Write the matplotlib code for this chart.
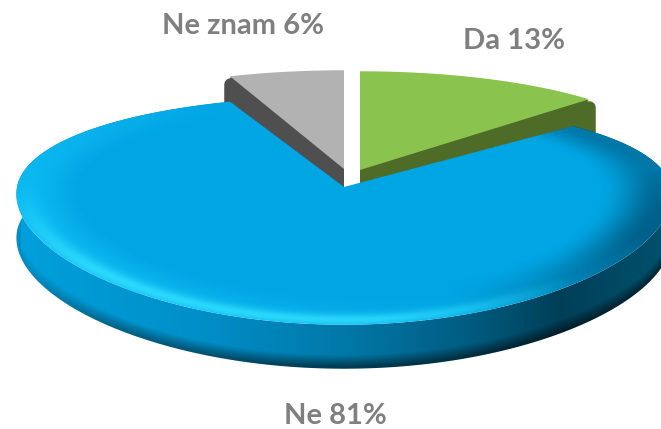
import numpy as np
import matplotlib
matplotlib.use("Agg")
import matplotlib.pyplot as plt
from matplotlib.patches import Polygon

# slices, clockwise from 12 o'clock
names = ["Da", "Ne", "Ne znam"]
values = [13, 81, 6]
top_colors = ["#8BC34F", "#00A5E3", "#B2B2B2"]
side_colors = ["#4E6B28", "#006A90", "#4F4F4F"]
offsets = [(16, -17), (0, 0), (0, -18)]
label_xy = [(514, 41), (335, 416), (243, 26)]

CX, CY = 344, 187
RX, RY = 327, 115
KX, KY = 0.06, 0.165
DEPTH = 44
FAR_LEFT, FAR_RIGHT = 0.92, 0.86


def project(theta, squeeze=False):
    x, y = np.sin(theta), np.cos(theta)
    sy = RY * y / (1 + KY * y)
    if squeeze:
        sy = np.where(y > 0, np.where(x < 0, FAR_LEFT, FAR_RIGHT), 1.0) * sy
    return CX + RX * x / (1 + KX * y), CY - sy


def wedge(a0, a1, dx=0, dy=0, squeeze=False):
    th = np.linspace(a0, a1, 300)
    px, py = project(th, squeeze)
    return np.r_[CX + dx, px + dx], np.r_[CY + dy, py + dy]


def blend(s, light, dark, base):
    s = s[..., None]
    base, light, dark = map(np.array, (base, light, dark))
    return base + np.clip(s, 0, 1) * (light - base) + np.clip(-s, 0, 1) * (dark - base)


fig = plt.figure(figsize=(6.61, 4.29), dpi=100)
ax = fig.add_axes([0, 0, 1, 1])
ax.set_xlim(0, 661)
ax.set_ylim(429, 0)
ax.axis("off")

edges = np.r_[0, np.cumsum(values)] / sum(values) * 2 * np.pi

# gray and green first, the blue slice sits in front of them
for i in (2, 0):
    dx, dy = offsets[i]
    for d in range(DEPTH, 0, -1):
        xs, ys = wedge(edges[i], edges[i + 1], dx, dy + d)
        ax.fill(xs, ys, color=side_colors[i], lw=0, zorder=1)
    # outer corner of the cut is rounded in the original
    corner = edges[i + 1] if i == 0 else edges[i]
    px, py = project(corner)
    ax.plot([px + dx, px + dx], [py + dy + 8, py + dy + DEPTH], color=side_colors[i],
            lw=9, solid_capstyle="round", zorder=0.5)
    xs, ys = wedge(edges[i], edges[i + 1], dx, dy)
    ax.fill(xs, ys, color=top_colors[i], lw=0, zorder=2)

# blue side wall
th = np.linspace(edges[1], edges[2], 800)
px, py = project(th, True)
wall = Polygon(np.c_[np.r_[px, px[::-1]], np.r_[py, py[::-1] + DEPTH]],
               transform=ax.transData, fc="none", ec="none")
ax.add_patch(wall)
gx, gy = np.meshgrid(np.arange(661) + 0.5, np.arange(429) + 0.5)
near = np.cos(th) < 0.1
order = np.argsort(px[near])
low = np.interp(gx, px[near][order], py[near][order] + DEPTH)
stops = [0, 20, 200, 345, 470, 560, 661]
wall_rgb = [[0, 160, 220], [0, 160, 220], [0, 143, 200], [0, 120, 168],
            [0, 92, 128], [0, 63, 88], [0, 80, 108]]
img = np.stack([np.interp(gx, stops, [c[k] for c in wall_rgb]) for k in range(3)], -1)
shade = np.clip((gy - (low - 14)) / 12, 0, 1) * np.interp(gx, [0, 120, 300], [0.15, 0.7, 1])
img = img * (1 - 0.5 * shade[..., None])
im = ax.imshow(img / 255, extent=(0, 661, 429, 0), aspect="auto", zorder=3,
               interpolation="bilinear")
im.set_clip_path(wall)

# blue top with its bevel
xs, ys = wedge(edges[1], edges[2], squeeze=True)
top = Polygon(np.c_[xs, ys], transform=ax.transData, fc="none", ec="none")
ax.add_patch(top)
sy = CY - gy
sy = np.where(sy > 0, sy / np.where(gx < CX, FAR_LEFT, FAR_RIGHT), sy)
v = sy / (RY - KY * sy)
u = (gx - CX) * (1 + KX * v) / RX
r = np.hypot(u, v)
t = np.clip((r - 0.78) / 0.19, 0, 1)
t = t * t * (3 - 2 * t)
s = (-0.9 * u - 0.35 * v) / np.maximum(r, 1e-6)
s = np.where(s > 0, 0.55 * s, s * np.interp(v, [-0.4, 0.2], [0.95, 0.45]))
# narrow glare along the front edge, lower left
glare = np.exp(-((r - 0.97) / 0.035) ** 2) * np.clip(-u * 1.2 - v + 0.1, 0, 1) * np.clip(-v * 1.6, 0, 1)
rgb = blend(t * s, (25, 205, 255), (0, 60, 90), (0, 165, 227))
rgb = rgb + glare[..., None] * (np.array([50, 225, 255]) - rgb) * 0.8
im = ax.imshow(np.clip(rgb, 0, 255) / 255, extent=(0, 661, 429, 0), aspect="auto",
               zorder=4, interpolation="bilinear")
im.set_clip_path(top)

for name, val, (lx, ly) in zip(names, values, label_xy):
    ax.text(lx, ly, f"{name} {val}%", ha="center", va="center", fontsize=21,
            fontweight="bold", family="Lato", color="#7F7F7F", zorder=5)

fig.savefig("out.png", dpi=100)
